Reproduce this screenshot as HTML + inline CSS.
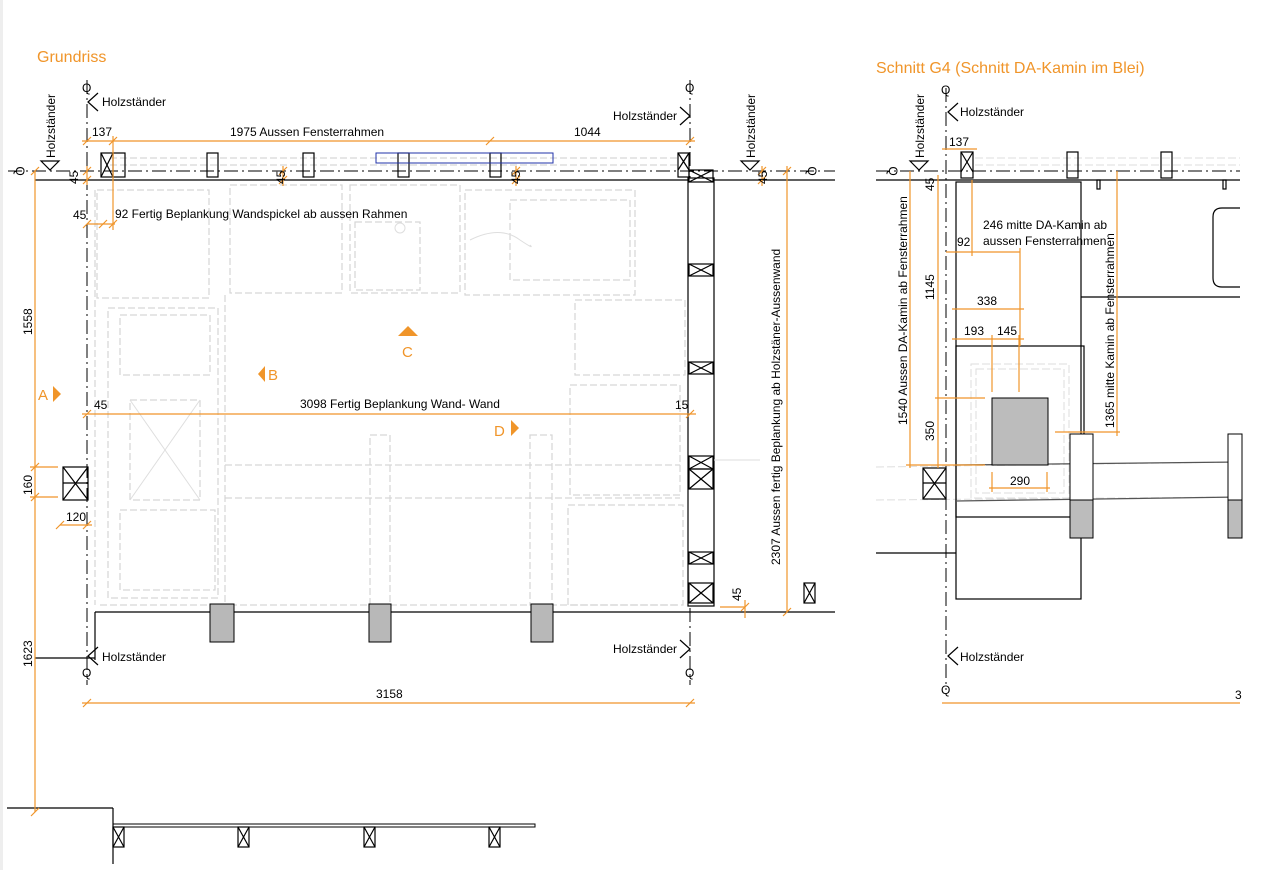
<!DOCTYPE html>
<html><head><meta charset="utf-8"><style>
html,body{margin:0;padding:0;background:#fff;}
svg{display:block;font-family:"Liberation Sans",Arial,sans-serif;}
.o{stroke:#f0952a;stroke-width:1.2;fill:none}
.k{stroke:#000;stroke-width:1.2;fill:none}
.g{stroke:#d6d6d6;stroke-width:1.2;fill:none;stroke-dasharray:7 3}
.gs{stroke:#dedede;stroke-width:1;fill:none}
.dd{stroke:#000;stroke-width:1;fill:none;stroke-dasharray:14 4 2 4}
.t{font-size:12px;fill:#000}
.ot{fill:#f0952a}
</style></head><body>
<svg width="1281" height="870" viewBox="0 0 1281 870" xmlns="http://www.w3.org/2000/svg">
<rect x="0" y="0" width="3" height="870" fill="#eee"/>
<!-- ===== LEFT: Grundriss ===== -->
<text x="37" y="62" font-size="16" class="ot">Grundriss</text>

<!-- light gray furniture -->
<g class="g">
<rect x="97" y="190" width="112" height="108"/>
<rect x="230" y="185" width="112" height="108"/>
<rect x="350" y="185" width="110" height="108"/>
<rect x="465" y="190" width="170" height="105"/>
<rect x="510" y="200" width="120" height="80"/>
<rect x="355" y="222" width="65" height="68"/>
<rect x="108" y="308" width="110" height="290"/>
<rect x="120" y="315" width="90" height="60"/>
<rect x="130" y="400" width="70" height="100"/>
<rect x="120" y="510" width="95" height="80"/>
<rect x="575" y="300" width="110" height="75"/>
<rect x="570" y="385" width="110" height="110"/>
<rect x="568" y="505" width="115" height="100"/>
<rect x="370" y="435" width="20" height="170"/>
<rect x="530" y="435" width="22" height="170"/>
<line x1="225" y1="465" x2="680" y2="465"/>
<line x1="225" y1="498" x2="680" y2="498"/>
<line x1="225" y1="295" x2="225" y2="605"/>
<line x1="95" y1="190" x2="95" y2="605"/>
<line x1="100" y1="605" x2="680" y2="605"/>
<line x1="110" y1="165" x2="680" y2="165"/>
<line x1="110" y1="158" x2="680" y2="158"/>
</g>
<g class="gs">
<line x1="130" y1="400" x2="200" y2="500"/><line x1="200" y1="400" x2="130" y2="500"/>
<circle cx="400" cy="228" r="5"/>
<path d="M470 240 q30 -15 50 0 q15 10 10 5"/>
</g>

<!-- grid lines -->
<line class="dd" x1="87" y1="80" x2="87" y2="685"/>
<line class="dd" x1="690" y1="80" x2="690" y2="685"/>
<line class="dd" x1="8" y1="171" x2="835" y2="171"/>
<text class="t" x="82" y="92" font-size="11">Q</text>
<text class="t" x="685" y="92" font-size="11">Q</text>
<text class="t" x="82" y="677" font-size="11">Q</text>
<text class="t" x="685" y="677" font-size="11">Q</text>
<text class="t" transform="translate(16,171) rotate(90)" text-anchor="middle" font-size="11">Q</text>
<text class="t" transform="translate(808,171) rotate(90)" text-anchor="middle" font-size="11">Q</text>

<!-- walls -->
<line class="k" x1="35" y1="180" x2="835" y2="180"/>
<line class="k" x1="95" y1="612" x2="835" y2="612"/>
<line class="k" x1="95" y1="612" x2="95" y2="660"/>
<line class="k" x1="35" y1="658" x2="95" y2="658"/>

<!-- top posts -->
<g class="k" stroke-width="1">
<rect x="101" y="153" width="24" height="24"/><line x1="113" y1="153" x2="113" y2="177"/>
<line x1="101" y1="153" x2="113" y2="177"/><line x1="113" y1="153" x2="101" y2="177"/>
<rect x="207" y="153" width="11" height="24"/>
<rect x="303" y="153" width="11" height="24"/>
<rect x="398" y="153" width="11" height="24"/>
<rect x="490" y="153" width="11" height="24"/>
<rect x="678" y="153" width="11" height="24"/>
<line x1="678" y1="153" x2="689" y2="170"/><line x1="689" y1="153" x2="678" y2="170"/>
</g>
<rect x="376" y="153" width="177" height="10" fill="none" stroke="#2233aa" stroke-width="1"/>

<!-- right wall column -->
<rect x="688" y="178" width="26" height="428" fill="#fff" stroke="#000" stroke-width="1.2"/>
<g class="k" stroke-width="1">
<rect x="689" y="170" width="24" height="12"/><line x1="689" y1="170" x2="713" y2="182"/><line x1="713" y1="170" x2="689" y2="182"/>
<rect x="689" y="264" width="24" height="12"/><line x1="689" y1="264" x2="713" y2="276"/><line x1="713" y1="264" x2="689" y2="276"/>
<rect x="689" y="362" width="24" height="12"/><line x1="689" y1="362" x2="713" y2="374"/><line x1="713" y1="362" x2="689" y2="374"/>
<rect x="689" y="456" width="24" height="13"/><line x1="689" y1="456" x2="713" y2="469"/><line x1="713" y1="456" x2="689" y2="469"/>
<rect x="689" y="469" width="24" height="20"/><line x1="689" y1="469" x2="713" y2="489"/><line x1="713" y1="469" x2="689" y2="489"/>
<rect x="689" y="552" width="24" height="12"/><line x1="689" y1="552" x2="713" y2="564"/><line x1="713" y1="552" x2="689" y2="564"/>
<rect x="689" y="583" width="24" height="20"/><line x1="689" y1="583" x2="713" y2="603"/><line x1="713" y1="583" x2="689" y2="603"/>
<rect x="804" y="583" width="11" height="20"/><line x1="804" y1="583" x2="815" y2="603"/><line x1="815" y1="583" x2="804" y2="603"/>
</g>
<line class="gs" x1="714" y1="460" x2="760" y2="460"/>

<!-- gray blocks bottom -->
<g fill="#b8b8b8" stroke="#000" stroke-width="1">
<rect x="210" y="604" width="24" height="38"/>
<rect x="369" y="604" width="22" height="38"/>
<rect x="531" y="604" width="22" height="38"/>
</g>

<!-- left small box -->
<rect x="63" y="467" width="25" height="33" fill="none" stroke="#000" stroke-width="1.2"/>
<line class="k" x1="63" y1="467" x2="88" y2="500" stroke-width="0.8"/><line class="k" x1="88" y1="467" x2="63" y2="500" stroke-width="0.8"/>
<line class="k" x1="63" y1="483" x2="88" y2="483" stroke-width="0.6"/>

<!-- bottom-left stair-ish lines -->
<line class="k" x1="7" y1="808" x2="113" y2="808"/>
<line class="k" x1="113" y1="808" x2="113" y2="864"/>
<rect x="113" y="824" width="422" height="3" fill="none" stroke="#000" stroke-width="1"/>
<g class="k" stroke-width="1">
<rect x="113" y="827" width="11" height="20"/><line x1="113" y1="827" x2="124" y2="847"/><line x1="124" y1="827" x2="113" y2="847"/>
<rect x="238" y="827" width="11" height="20"/><line x1="238" y1="827" x2="249" y2="847"/><line x1="249" y1="827" x2="238" y2="847"/>
<rect x="364" y="827" width="11" height="20"/><line x1="364" y1="827" x2="375" y2="847"/><line x1="375" y1="827" x2="364" y2="847"/>
<rect x="489" y="827" width="11" height="20"/><line x1="489" y1="827" x2="500" y2="847"/><line x1="500" y1="827" x2="489" y2="847"/>
</g>

<!-- Holzständer markers -->
<g class="k" stroke-width="1">
<path d="M98 93 L88 102 L98 111"/>
<path d="M680 107 L690 116 L680 125"/>
<path d="M98 647 L88 656 L98 665"/>
<path d="M680 640 L690 649 L680 658"/>
<path d="M41 161 L50 170 L59 161 Z"/>
<path d="M741 161 L750 170 L759 161 Z"/>
</g>
<text class="t" x="102" y="106">Holzständer</text>
<text class="t" x="613" y="120">Holzständer</text>
<text class="t" x="102" y="661">Holzständer</text>
<text class="t" x="613" y="653">Holzständer</text>
<text class="t" transform="translate(55,158) rotate(-90)">Holzständer</text>
<text class="t" transform="translate(755,158) rotate(-90)">Holzständer</text>

<!-- orange dims -->
<g class="o">
<line x1="82" y1="141" x2="695" y2="141"/>
<line x1="35" y1="171" x2="35" y2="812"/>
<line x1="30" y1="467" x2="58" y2="467"/><line x1="30" y1="497" x2="58" y2="497"/>
<line x1="87" y1="224" x2="115" y2="224"/>
<line x1="82" y1="414" x2="696" y2="414"/>
<line x1="60" y1="525" x2="92" y2="525"/>
<line x1="82" y1="703" x2="695" y2="703"/>
<line x1="787" y1="166" x2="787" y2="612"/>
<line x1="87" y1="166" x2="87" y2="185"/>
<line x1="283" y1="166" x2="283" y2="186"/>
<line x1="516" y1="166" x2="516" y2="186"/>
<line x1="762" y1="166" x2="762" y2="186"/>
<line x1="720" y1="607" x2="745" y2="607"/><line x1="745" y1="600" x2="745" y2="618"/>
<line x1="113" y1="136" x2="113" y2="230"/>
</g>
<g class="o" stroke-width="1">
<path d="M83 145 l8 -8 M109 145 l8 -8 M486 145 l8 -8 M686 145 l8 -8 M31 175 l8 -8 M31 816 l8 -8 M83 228 l8 -8 M109 228 l8 -8 M99 228 l8 -8 M83 418 l8 -8 M686 418 l8 -8 M83 707 l8 -8 M686 707 l8 -8 M783 175 l8 -8 M783 616 l8 -8 M31 471 l8 -8 M31 501 l8 -8 M56 529 l8 -8 M83 529 l8 -8 M279 175 l8 -8 M279 184 l8 -8 M512 175 l8 -8 M512 184 l8 -8 M758 175 l8 -8 M758 184 l8 -8 M83 175 l8 -8 M83 184 l8 -8 M741 611 l8 -8"/>
</g>
<text class="t" x="92" y="136">137</text>
<text class="t" x="230" y="136">1975 Aussen Fensterrahmen</text>
<text class="t" x="574" y="136">1044</text>
<text class="t" x="73" y="219">45</text>
<text class="t" x="115" y="218">92 Fertig Beplankung Wandspickel ab aussen Rahmen</text>
<text class="t" x="94" y="409">45</text>
<text class="t" x="300" y="408">3098 Fertig Beplankung Wand- Wand</text>
<text class="t" x="675" y="409">15</text>
<text class="t" x="66" y="521">120</text>
<text class="t" x="376" y="698">3158</text>
<text class="t" transform="translate(32,335) rotate(-90)">1558</text>
<text class="t" transform="translate(32,495) rotate(-90)">160</text>
<text class="t" transform="translate(32,667) rotate(-90)">1623</text>
<text class="t" transform="translate(78,184) rotate(-90)">45</text>
<text class="t" transform="translate(285,184) rotate(-90)">45</text>
<text class="t" transform="translate(520,184) rotate(-90)">45</text>
<text class="t" transform="translate(767,184) rotate(-90)">45</text>
<text class="t" transform="translate(741,601) rotate(-90)">45</text>
<text class="t" transform="translate(780,565) rotate(-90)">2307 Aussen fertig Beplankung ab Holzstäner-Aussenwand</text>

<!-- section markers -->
<g fill="#f0952a">
<path d="M398 336 L408 326 L418 336 Z"/>
<path d="M265 366 L258 374 L265 382 Z"/>
<path d="M53 386 L61 394 L53 402 Z"/>
<path d="M511 420 L519 428 L511 436 Z"/>
</g>
<text x="402" y="357" font-size="15" class="ot">C</text>
<text x="268" y="380" font-size="15" class="ot">B</text>
<text x="38" y="400" font-size="15" class="ot">A</text>
<text x="494" y="436" font-size="15" class="ot">D</text>

<!-- ===== RIGHT: Schnitt G4 ===== -->
<text x="876" y="73" font-size="16" class="ot">Schnitt G4 (Schnitt DA-Kamin im Blei)</text>
<g class="gs" stroke-dasharray="8 3">
<line x1="975" y1="158" x2="1240" y2="158"/><line x1="975" y1="165" x2="1240" y2="165"/>
<rect x="971" y="364" width="98" height="134"/><rect x="976" y="369" width="88" height="124"/>
<line x1="876" y1="467" x2="1240" y2="462"/><line x1="876" y1="500" x2="1240" y2="497"/>
</g>
<line class="dd" x1="946" y1="88" x2="946" y2="690"/>
<line class="dd" x1="876" y1="171" x2="1240" y2="171"/>
<text class="t" x="941" y="94" font-size="11">Q</text>
<text class="t" x="941" y="694" font-size="11">Q</text>
<text class="t" transform="translate(889,171) rotate(90)" text-anchor="middle" font-size="11">Q</text>
<line class="k" x1="876" y1="180" x2="1240" y2="180"/>
<g class="k" stroke-width="1">
<rect x="961" y="152" width="12" height="26"/><line x1="961" y1="152" x2="973" y2="172"/><line x1="973" y1="152" x2="961" y2="172"/>
<rect x="1067" y="152" width="11" height="26"/>
<rect x="1161" y="152" width="11" height="26"/>
<rect x="956" y="182" width="125" height="417"/>
<rect x="956" y="346" width="128" height="171"/>
<line x1="1081" y1="297" x2="1240" y2="297"/>
<path d="M1240 208 L1222 208 Q1213 208 1213 217 L1213 278 Q1213 287 1222 287 L1240 287"/>
<line x1="876" y1="553" x2="956" y2="553"/>
<rect x="1097" y="180" width="3" height="9"/><rect x="1223" y="180" width="3" height="9"/>
<line x1="956" y1="465" x2="1240" y2="462" stroke="#555"/>
<line x1="956" y1="501" x2="1240" y2="497" stroke="#555"/>
<rect x="923" y="468" width="23" height="31"/>
<line x1="923" y1="468" x2="946" y2="499"/><line x1="946" y1="468" x2="923" y2="499"/><line x1="923" y1="483" x2="946" y2="483"/>
</g>
<rect x="992" y="398" width="56" height="67" fill="#bcbcbc" stroke="#000"/>
<rect x="1070" y="434" width="23" height="104" fill="#fff" stroke="#000"/>
<rect x="1070" y="500" width="23" height="38" fill="#bcbcbc" stroke="#000"/>
<rect x="1228" y="434" width="14" height="104" fill="#fff" stroke="#000"/>
<rect x="1228" y="500" width="14" height="38" fill="#bcbcbc" stroke="#000"/>
<g class="k" stroke-width="1">
<path d="M958 103 L948 112 L958 121"/>
<path d="M958 647 L948 656 L958 665"/>
<path d="M910 161 L919 170 L928 161 Z"/>
</g>
<text class="t" x="960" y="116">Holzständer</text>
<text class="t" x="960" y="661">Holzständer</text>
<text class="t" transform="translate(924,158) rotate(-90)">Holzständer</text>
<g class="o">
<line x1="942" y1="149" x2="977" y2="149"/>
<line x1="910" y1="171" x2="910" y2="468"/>
<line x1="938" y1="175" x2="938" y2="468"/>
<line x1="906" y1="465" x2="985" y2="465"/>
<line x1="935" y1="398" x2="985" y2="398"/>
<line x1="946" y1="252" x2="1020" y2="252"/>
<line x1="972" y1="180" x2="972" y2="256"/>
<line x1="1020" y1="248" x2="1020" y2="346"/>
<line x1="952" y1="309" x2="1024" y2="309"/>
<line x1="952" y1="339" x2="1024" y2="339"/>
<line x1="992" y1="335" x2="992" y2="392"/>
<line x1="1019" y1="335" x2="1019" y2="392"/>
<line x1="1117" y1="171" x2="1117" y2="436"/>
<line x1="1055" y1="432" x2="1120" y2="432"/>
<line x1="989" y1="488" x2="1050" y2="488"/>
<line x1="992" y1="472" x2="992" y2="492"/><line x1="1047" y1="472" x2="1047" y2="492"/>
<line x1="942" y1="703" x2="1240" y2="703"/>
</g>
<text class="t" x="949" y="146">137</text>
<text class="t" x="957" y="246">92</text>
<text class="t" x="983" y="229">246 mitte DA-Kamin ab</text>
<text class="t" x="983" y="245">aussen Fensterrahmen</text>
<text class="t" x="977" y="305">338</text>
<text class="t" x="964" y="335">193</text>
<text class="t" x="997" y="335">145</text>
<text class="t" x="1010" y="485">290</text>
<text class="t" x="1235" y="699">3</text>
<text class="t" transform="translate(907,425) rotate(-90)">1540 Aussen DA-Kamin ab Fensterrahmen</text>
<text class="t" transform="translate(934,300) rotate(-90)">1145</text>
<text class="t" transform="translate(934,441) rotate(-90)">350</text>
<text class="t" transform="translate(934,191) rotate(-90)">45</text>
<text class="t" transform="translate(1114,428) rotate(-90)">1365 mitte Kamin ab Fensterrahmen</text>
</svg>
</body></html>
